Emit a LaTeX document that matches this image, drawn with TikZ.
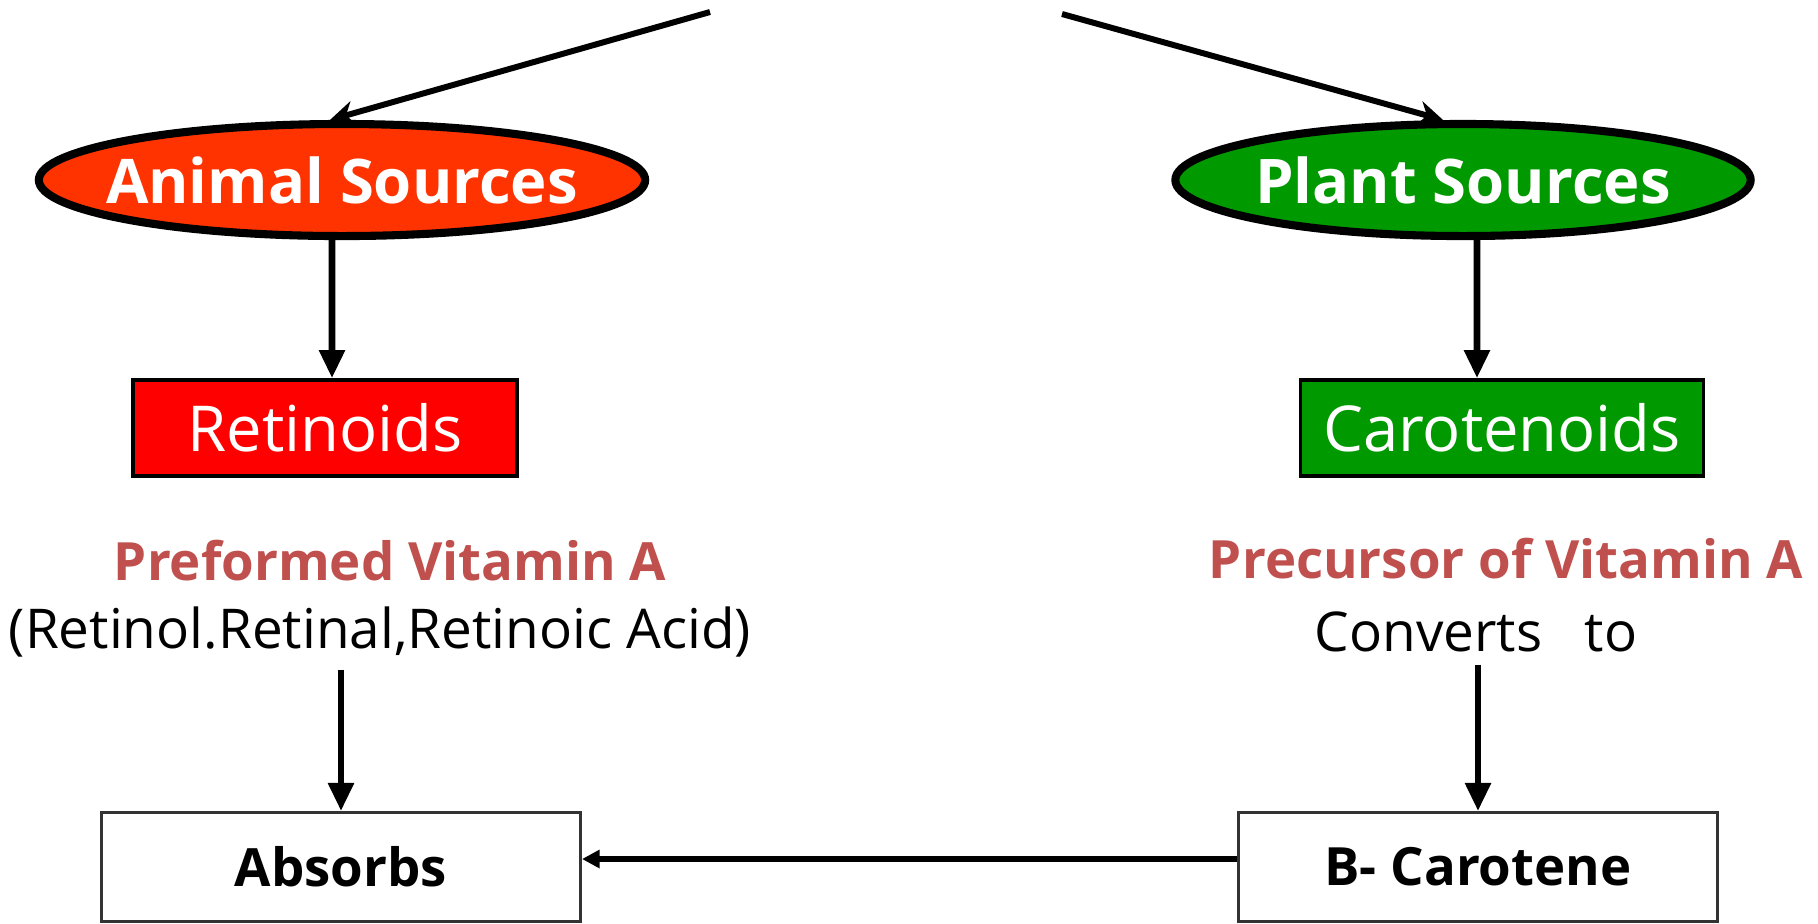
\documentclass[tikz,border=0pt]{standalone}
\usepackage{fontspec}
\setmainfont{Open Sans}
\usepackage{xcolor}
\usepackage{tikz}
\usetikzlibrary{arrows.meta, shapes.geometric}

\definecolor{animalred}{HTML}{FF3300}
\definecolor{retinoidred}{HTML}{FF0000}
\definecolor{plantgreen}{HTML}{009900}
\definecolor{notered}{HTML}{C0504D}

\begin{document}
\begin{tikzpicture}[
    x=0.01cm, y=-0.01cm,
    src_oval/.style={ellipse, draw=black, line width=2.3pt, inner sep=0pt, minimum height=1.12cm,
        text=white, font=\bfseries\fontsize{17.5}{21}\selectfont},
    kind_box/.style={rectangle, draw=black, line width=1pt, minimum height=0.96cm,
        text=white, font=\fontsize{18}{22}\selectfont},
    note_head/.style={text=notered, font=\bfseries\fontsize{15}{18}\selectfont},
    note_body/.style={text=black, font=\fontsize{15.6}{19}\selectfont},
    end_box/.style={rectangle, draw=black!80, line width=0.8pt, minimum width=4.79cm,
        minimum height=1.09cm, font=\bfseries\fontsize{15}{18}\selectfont},
    feed_arrow/.style={-{Stealth[length=7pt, width=7pt]}, line width=1.7pt},
    down_arrow/.style={-{Triangle[length=8pt, width=7pt]}, line width=1.9pt},
    side_arrow/.style={-{Triangle[length=5pt, width=5pt]}, line width=1.6pt}
]
\useasboundingbox (0,0) rectangle (1818,923);

% sources
\node[src_oval, fill=animalred, minimum width=6.06cm]  (animal) at (342,180) {\makebox[0pt]{Animal Sources}};
\node[src_oval, fill=plantgreen, minimum width=5.75cm] (plant) at (1463,180) {\makebox[0pt]{Plant Sources}};

% kinds
\node[kind_box, fill=retinoidred, minimum width=3.84cm] (retinoids) at (325,428) {Retinoids};
\node[kind_box, fill=plantgreen, minimum width=4.03cm]  (carot) at (1502,428) {Carotenoids};

% notes
\node[note_head] (preformed) at (390,561) {Preformed Vitamin A};
\node[note_body] (forms) at (380,632) {(Retinol.Retinal,Retinoic Acid)};
\node[note_head] (precursor) at (1506,559) {Precursor of Vitamin A};
\node[note_body] (converts) at (1476,632) {Converts\ \ \ to};

% bottom
\node[end_box] (absorbs) at (341,867) {Absorbs};
\node[end_box] (beta) at (1478,867) {B- Carotene};

\coordinate (topL) at (710,12);
\coordinate (topR) at (1062,14);

\draw[feed_arrow] (topL) -- ([xshift=-0.12cm]animal.north);
\draw[feed_arrow] (topR) -- ([xshift=-0.2cm]plant.north);
\draw[down_arrow] ([xshift=-0.1cm]animal.south) -- ([xshift=0.07cm]retinoids.north);
\draw[down_arrow] ([xshift=0.14cm]plant.south) -- ([xshift=-0.25cm]carot.north);
\draw[down_arrow] (absorbs.north |- forms.south) -- (absorbs.north);
\draw[down_arrow] (beta.north |- converts.south) -- (beta.north);
\draw[side_arrow] ([yshift=0.08cm]beta.west) -- ([yshift=0.08cm]absorbs.east);
\end{tikzpicture}
\end{document}
